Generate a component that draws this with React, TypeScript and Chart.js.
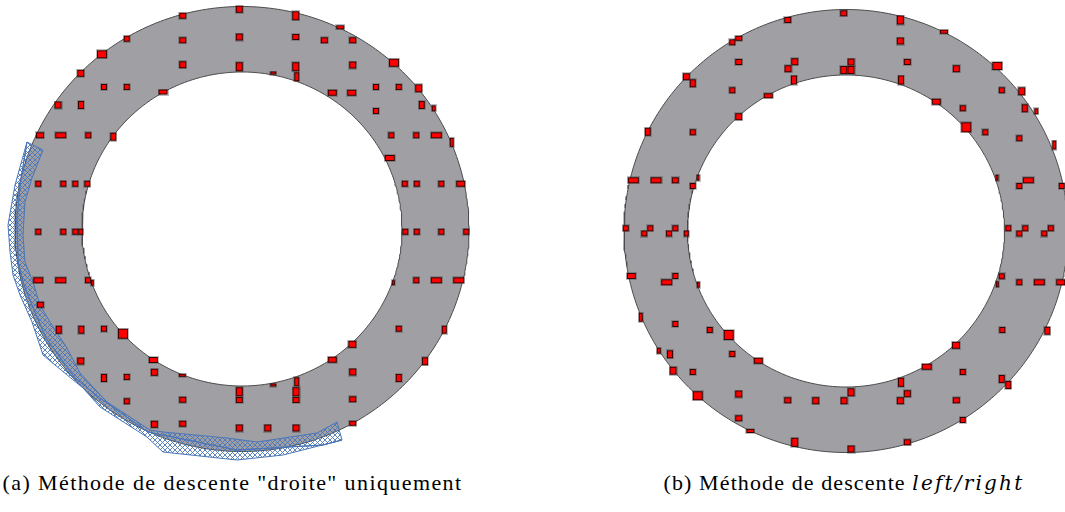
import React, { useEffect, useRef } from "react";
import { Chart, registerables } from "chart.js";

Chart.register(...registerables);

// ---------------- Panel (a): marks, offsets from the ring centre ----------------
const A_X = [
  -2.7, -59.3, 53.7, 98.3, -115.3, -59.3, -2.7, 53.7, 82.3, 110.7,
  -140, 152, -59.3, -2.7, 53.7, 54.7, 31.3, 110.7, -161.3, -138,
  -115.3, -79, 90.3, 109.7, 134, 156.7, 176.7, -184, -161, 179.7,
  191.7, 134, -202, -181.3, -153.7, -128.7, 149.3, 174.3, 194.3, 209.7,
  147.7, -203.7, -178.7, -166.7, -154.7, 162.7, 174.7, 199.3, 218.7, -203.7,
  -178.7, -166.7, -161.3, 163.3, 174.7, 199.3, 224.3, -203.7, -181.3, -154,
  -149.7, 151.3, 174.3, 194.3, 216.7, -201.7, -183.3, -160.7, -138, -119,
  156.7, 202.3, 110.3, -161.3, -88.7, 90.3, 183, -87.7, 110.7, -138,
  -115.3, 156.7, -59.7, 31.3, 54.7, -2.7, 54, -2.7, 54, -115.3,
  -59.3, 110.7, -87.7, -59.3, 110.7, -2.7, 25.7, 54,
];
const A_Y = [
  219.7, 213.3, 213.3, 201.7, 190.3, 188.7, 192, 192, 188.7, 188.7,
  174.7, 166.3, 164.3, 162.3, 162.3, 152.3, 156, 164, 155.7, 142,
  142, 137, 136.3, 136.3, 142, 142, 140.7, 124, 124, 124,
  120.7, 118, 93.7, 93.7, 93.7, 92.3, 93.7, 93.7, 93.7, 86.7,
  71, 45.3, 45.3, 45.3, 45.3, 45.3, 45.3, 45.3, 45.3, -2.7,
  -2.7, -2.7, -2.7, -2.7, -2.7, -2.7, -2.7, -51.3, -51.3, -51.3,
  -53.7, -53.7, -51.3, -51.3, -51.3, -75.7, -100.7, -100.7, -99.7, -104.7,
  -99.7, -100.7, -115.3, -132, -131, -130.7, -132.3, -143.3, -143, -149,
  -148, -149, -146.3, -156, -152.7, -162.7, -162.7, -171, -171, -172.3,
  -170.7, -170.3, -195.3, -194.7, -194.3, -199, -199, -199,
];
const A_W = [
  7, 7, 7, 8, 6, 7, 7, 7, 7, 7,
  10, 10, 7, 7, 7, 5, 6, 7, 7, 6,
  6, 9, 9, 9, 6, 6, 7, 7, 6, 6,
  4, 6, 8, 11, 6, 6, 6, 6, 11, 4,
  10, 6, 6, 6, 6, 6, 6, 6, 9, 6,
  6, 6, 5, 6, 6, 6, 6, 10, 11, 6,
  3, 3, 6, 11, 11, 7, 6, 6, 6, 10,
  6, 5, 8, 7, 9, 9, 6, 7, 7, 6,
  6, 6, 7, 6, 5, 7, 7, 7, 7, 6,
  7, 7, 7, 7, 7, 7, 7, 7,
];
const A_H = [
  7, 6, 9, 4, 6, 6, 7, 6, 6, 6,
  8, 8, 7, 9, 9, 9, 3, 7, 7, 6,
  6, 5, 6, 6, 6, 6, 8, 7, 8, 8,
  6, 6, 6, 6, 6, 8, 6, 6, 6, 9,
  6, 6, 6, 6, 6, 6, 6, 6, 6, 6,
  6, 6, 6, 6, 6, 6, 6, 6, 6, 6,
  6, 5, 6, 6, 6, 6, 8, 8, 6, 10,
  6, 8, 7, 7, 6, 6, 8, 7, 7, 8,
  6, 8, 3, 3, 9, 9, 9, 6, 6, 6,
  6, 6, 7, 6, 5, 7, 7, 7,
];

// ---------------- Panel (b): marks, offsets from the ring centre ----------------
const B_X = [
  -58.3, -107.3, -113.7, -107.3, -51.3, -58, -52, -159.7, -153.3, -113.7,
  -77.7, -107.3, -198.3, -153.3, -212.7, -190, -170.7, -148, -153.3, -220.3,
  -201.7, -195.7, -177, -170.7, -159.7, -214.7, -179.3, -170.7, -147.7, -205.3,
  -170.7, -136.3, -117.3, -187.3, -176, -113.7, -87.7, -173, -153.3, -148.3,
  -107.3, -58.3, -30.3, -107.3, -95.7, -51.3, -2.3, 54.3, 98, 54.3,
  5, -2.3, 5, 61.3, 110.3, 55, 151.3, 155.7, 175.7, 90.3,
  116.7, 178.7, 190.3, 120.3, 139.3, 173.3, 208.3, 151, 182.3, 173.3,
  215.7, 162.3, 173.3, 179.3, 198.3, 204.7, 155.7, 151.3, 173.3, 193.3,
  214.7, 156.3, 201.3, 110, 80.7, 116.7, 155.7, 162.3, 55, 5,
  -2, 61.3, 54.3, 110.3, 116.7, 61.3, 5,
];
const B_Y = [
  211, 192.7, 188.7, 169, 169.3, 162.3, 151, 154.3, 147.7, 140.7,
  135.3, 114.3, 99.3, 98.7, 50.7, 50.7, 50.7, 53.3, 45, 2.7,
  -2.5, 2.7, -2.5, 2.7, -2.5, -45, -51.3, -45, -53.7, -86.3,
  -93, -99, -104, -119.7, -123.3, -123, -129.7, -139.7, -141, -164.7,
  -163, -169.3, -169.7, -187.3, -200, -211.3, 217.7, 211, 199.3, 190,
  169, 161, 161, 169, 162.3, 151, 165, 140.7, 139.7, 129.3,
  122.7, 122.7, 119.7, 103.7, 98.7, 92.7, 86, 53.3, 50.7, 45,
  45, 2.7, -2.5, 2.7, -2.5, 2.7, -45.3, -53.3, -51.3, -51.3,
  -51.3, -99, -99.7, -114.3, -135.7, -141, -148, -154, -151.3, -161.3,
  -169.7, -162.7, -169.7, -169.3, -189, -211.3, -218,
];
const B_W = [
  7, 7, 6, 7, 7, 7, 6, 7, 6, 6,
  9, 7, 6, 6, 11, 11, 7, 3, 6, 6,
  6, 6, 6, 6, 5, 9, 11, 6, 3, 4,
  6, 6, 10, 4, 6, 6, 9, 7, 6, 10,
  7, 7, 7, 7, 8, 7, 7, 7, 8, 7,
  7, 7, 7, 7, 7, 6, 10, 6, 7, 9,
  6, 6, 4, 10, 6, 6, 4, 3, 11, 6,
  6, 6, 6, 6, 6, 6, 6, 3, 6, 11,
  9, 6, 6, 8, 10, 6, 6, 6, 6, 7,
  7, 7, 7, 7, 6, 7, 7,
];
const B_H = [
  6, 5, 6, 6, 7, 7, 9, 7, 8, 6,
  5, 7, 8, 6, 6, 6, 6, 6, 6, 6,
  6, 6, 6, 6, 6, 6, 6, 6, 6, 9,
  6, 6, 10, 6, 8, 6, 6, 8, 6, 9,
  7, 6, 7, 6, 4, 9, 6, 9, 4, 7,
  7, 8, 8, 6, 7, 9, 8, 6, 8, 6,
  6, 8, 6, 10, 6, 6, 9, 6, 6, 6,
  6, 6, 6, 6, 6, 6, 6, 6, 6, 6,
  6, 6, 8, 7, 6, 6, 8, 8, 9, 8,
  7, 7, 7, 6, 6, 6, 7,
];

// ---------------- Ring sizes (data units) ----------------
const A_OUTER = [227, 222.5];
const A_INNER = [160, 157];
const B_OUTER = [222, 221.5];
const B_INNER = [158.5, 156];

// ---------------- Hatched band of panel (a) ----------------
const BAND_OUT_X = [-215, -227, -234, -232, -229, -222, -210, -199, -187, -159, -142, -95, -79, -5, 41, 100];
const BAND_OUT_Y = [87, 44, 4, -23, -46, -66, -93, -126, -136, -159, -178, -208, -223, -231, -226, -211];
const BAND_MID_X = [-215, -222, -225, -224, -218, -208, -196, -180, -167, -142, -94, -5, 81, 100];
const BAND_MID_Y = [87, 44, 9, -33, -56, -81, -109, -131, -149, -169, -203, -221, -216, -211];
const BAND_IN_X = [-199, -210, -217, -219, -217, -209, -202, -192, -175, -162, -135, -92, -79, -15, 15, 75, 95];
const BAND_IN_Y = [79, 51, 27, -6, -33, -53, -76, -93, -119, -144, -173, -201, -203, -209, -213, -204, -193];

const CAPTION_A = '(a) Méthode de descente "droite" uniquement';
const CAPTION_B_PLAIN = "(b) Méthode de descente ";
const CAPTION_B_ITALIC = "left/right";

const RING_GREY = "#a09fa4";
const RING_EDGE = "#4a4a4a";
const MARK_RED = "#ff0000";
const MARK_EDGE = "#3a0000";
const HATCH_BLUE = "#4a76b8";

function zipPts(xs: number[], ys: number[]) {
  return xs.map((x, i) => ({ x, y: ys[i] }));
}

function ellipsePts(r: number[]) {
  const pts: { x: number; y: number }[] = [];
  for (let i = 0; i <= 360; i++) {
    const t = (i * Math.PI) / 180;
    pts.push({ x: r[0] * Math.cos(t), y: r[1] * Math.sin(t) });
  }
  return pts;
}

function markIcon(w: number, h: number) {
  const c = document.createElement("canvas");
  c.width = w + 2;
  c.height = h + 2;
  const g = c.getContext("2d")!;
  g.fillStyle = "rgba(70,70,70,0.35)";
  g.fillRect(0, 0, w + 2, h + 2);
  g.fillStyle = MARK_RED;
  g.fillRect(1, 1, w, h);
  g.strokeStyle = MARK_EDGE;
  g.lineWidth = 1;
  g.strokeRect(1.5, 1.5, w - 1, h - 1);
  return c;
}

function hatchPattern() {
  const s = 5;
  const c = document.createElement("canvas");
  c.width = s;
  c.height = s;
  const g = c.getContext("2d")!;
  g.strokeStyle = HATCH_BLUE;
  g.lineWidth = 0.9;
  g.beginPath();
  g.moveTo(-1, -1);
  g.lineTo(s + 1, s + 1);
  g.moveTo(s + 1, -1);
  g.lineTo(-1, s + 1);
  g.stroke();
  return g.createPattern(c, "repeat")!;
}

type PanelProps = {
  left: number;
  width: number;
  height: number;
  cx: number;
  cy: number;
  xs: number[];
  ys: number[];
  ws: number[];
  hs: number[];
  outer: number[];
  inner: number[];
  band: boolean;
};

function RingPanel(p: PanelProps) {
  const ref = useRef<HTMLCanvasElement>(null);
  useEffect(() => {
    const canvas = ref.current!;
    const icons = p.ws.map((w, i) => markIcon(w, p.hs[i]));
    const datasets: any[] = [
      {
        data: zipPts(p.xs, p.ys),
        showLine: false,
        pointRadius: 3,
        pointStyle: (ctx: any) => icons[ctx.dataIndex],
        order: 0,
      },
    ];
    if (p.band) {
      const pattern = hatchPattern();
      const mid = zipPts(BAND_MID_X, BAND_MID_Y).reverse();
      const inner = zipPts(BAND_IN_X, BAND_IN_Y);
      const outer = zipPts(BAND_OUT_X, BAND_OUT_Y);
      datasets.push({
        data: [...outer, ...mid],
        showLine: true,
        fill: "shape",
        backgroundColor: pattern,
        borderColor: HATCH_BLUE,
        borderWidth: 1,
        pointRadius: 0,
        tension: 0,
        order: 1,
      });
      datasets.push({
        data: [...inner, ...mid, inner[0]],
        showLine: true,
        fill: "shape",
        backgroundColor: pattern,
        borderColor: HATCH_BLUE,
        borderWidth: 1,
        pointRadius: 0,
        tension: 0,
        order: 1,
      });
    }
    datasets.push({
      data: ellipsePts(p.inner),
      showLine: true,
      fill: "shape",
      backgroundColor: "#ffffff",
      borderColor: RING_EDGE,
      borderWidth: 1,
      pointRadius: 0,
      tension: 0,
      order: 2,
    });
    datasets.push({
      data: ellipsePts(p.outer),
      showLine: true,
      fill: "shape",
      backgroundColor: RING_GREY,
      borderColor: RING_EDGE,
      borderWidth: 1,
      pointRadius: 0,
      tension: 0,
      order: 3,
    });
    const chart = new Chart(canvas, {
      type: "scatter",
      data: { datasets },
      options: {
        animation: false,
        responsive: false,
        events: [],
        layout: { padding: 0, autoPadding: false },
        plugins: {
          legend: { display: false },
          tooltip: { enabled: false },
          title: { display: false },
        },
        scales: {
          x: { type: "linear", display: false, min: -p.cx, max: p.width - p.cx },
          y: { type: "linear", display: false, min: p.cy - p.height, max: p.cy },
        },
      },
    } as any);
    return () => chart.destroy();
  }, []);
  return (
    <canvas
      ref={ref}
      width={p.width}
      height={p.height}
      style={{ position: "absolute", left: p.left, top: 0, width: p.width, height: p.height, display: "block" }}
    />
  );
}

const captionStyle: React.CSSProperties = {
  position: "absolute",
  top: 471,
  transform: "translateX(-50%)",
  whiteSpace: "nowrap",
  fontFamily: '"Liberation Serif", serif',
  fontSize: 22,
  lineHeight: "24px",
  color: "#000",
};

export default function App() {
  return (
    <div style={{ position: "absolute", left: 0, top: 0, width: 1065, height: 512, background: "#fff", overflow: "hidden" }}>
      <RingPanel left={0} width={532} height={470} cx={242} cy={229} xs={A_X} ys={A_Y} ws={A_W} hs={A_H} outer={A_OUTER} inner={A_INNER} band={true} />
      <RingPanel left={532} width={533} height={470} cx={314} cy={231} xs={B_X} ys={B_Y} ws={B_W} hs={B_H} outer={B_OUTER} inner={B_INNER} band={false} />
      <div style={{ ...captionStyle, left: 232.5, letterSpacing: "1.4px" }}>{CAPTION_A}</div>
      <div style={{ ...captionStyle, left: 844 }}>
        <span style={{ letterSpacing: "1.1px" }}>{CAPTION_B_PLAIN}</span>
        <i style={{ fontFamily: '"DejaVu Serif", serif', fontSize: 20, letterSpacing: "2.2px" }}>{CAPTION_B_ITALIC}</i>
      </div>
    </div>
  );
}
